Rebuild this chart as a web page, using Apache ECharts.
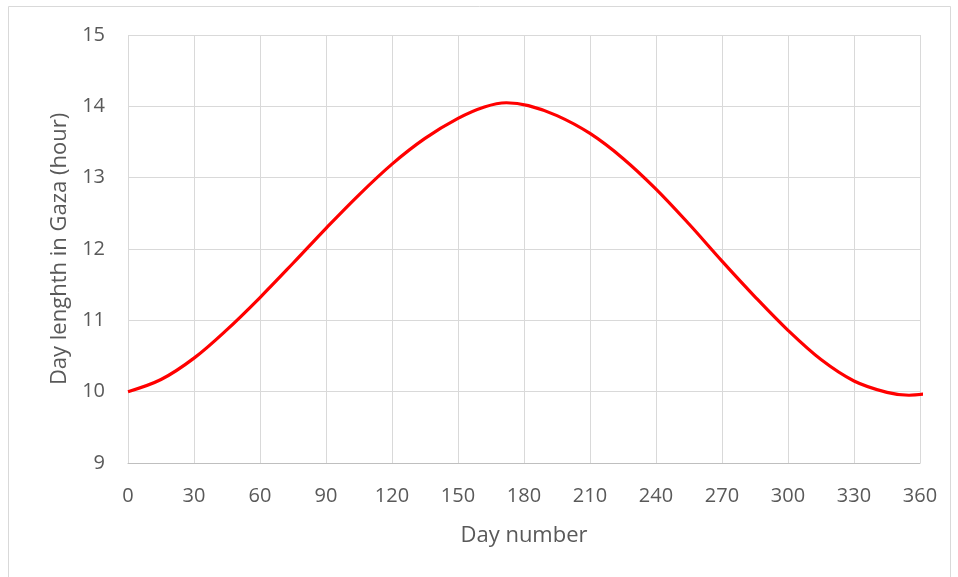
<!DOCTYPE html>
<html>
<head>
<meta charset="utf-8">
<script src="https://cdn.jsdelivr.net/npm/echarts@6/dist/echarts.min.js"></script>
<style>
html,body{margin:0;padding:0;background:#fff;}
#chart{width:958px;height:577px;}
</style>
</head>
<body>
<div id="chart"></div>
<script>
const days  = [0, 15, 30, 45, 60, 75, 90, 105, 120, 135, 150, 162, 172, 182, 195, 210, 225, 240, 255, 270, 285, 300, 315, 330, 345, 355, 365];
const hours = [10.00, 10.17, 10.47, 10.87, 11.32, 11.80, 12.29, 12.76, 13.19, 13.55, 13.83, 13.99, 14.05, 14.01, 13.87, 13.62, 13.27, 12.84, 12.35, 11.83, 11.33, 10.86, 10.45, 10.15, 9.99, 9.95, 9.98];
const xTitle = 'Day number';
const yTitle = 'Day lenghth in Gaza (hour)';

const chart = echarts.init(document.getElementById('chart'), null, {renderer: 'canvas'});
const font = '"Open Sans", "DejaVu Sans", sans-serif';
const textColor = '#595959';
chart.setOption({
  animation: false,
  backgroundColor: '#fff',
  graphic: [{
    type: 'rect',
    shape: {x: 8.5, y: 6.5, width: 942, height: 600},
    style: {fill: 'none', stroke: '#d9d9d9', lineWidth: 1},
    silent: true
  }],
  grid: {left: 128, right: 38, top: 35, bottom: 114, containLabel: false},
  xAxis: {
    type: 'value', min: 0, max: 360, interval: 30,
    name: xTitle, nameLocation: 'middle', nameGap: 62,
    nameTextStyle: {fontFamily: font, fontSize: 22, color: textColor},
    axisLine: {show: true, lineStyle: {color: '#bfbfbf', width: 1}},
    axisTick: {show: false},
    axisLabel: {fontFamily: font, fontSize: 20, color: textColor, margin: 23},
    splitLine: {show: true, lineStyle: {color: '#d9d9d9', width: 1}}
  },
  yAxis: {
    type: 'value', min: 9, max: 15, interval: 1,
    name: yTitle, nameLocation: 'middle', nameGap: 56,
    nameTextStyle: {fontFamily: font, fontSize: 22, color: textColor},
    axisLine: {show: false},
    axisTick: {show: false},
    axisLabel: {fontFamily: font, fontSize: 20, color: textColor, margin: 23},
    splitLine: {show: true, lineStyle: {color: '#d9d9d9', width: 1}}
  },
  series: [{
    type: 'line',
    data: days.map((d, i) => [d, hours[i]]),
    smooth: 0.35,
    showSymbol: false,
    lineStyle: {color: '#ff0000', width: 3.2}
  }]
});
</script>
</body>
</html>
